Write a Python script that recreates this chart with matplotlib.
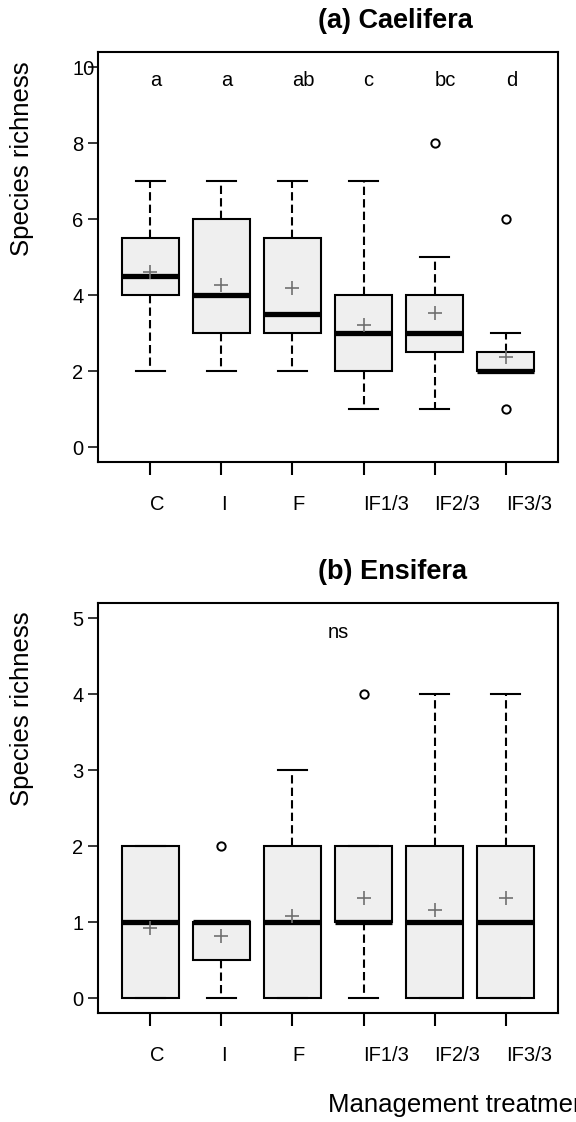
import matplotlib
matplotlib.use("Agg")
import matplotlib.pyplot as plt

plt.rcParams["font.family"] = ["Liberation Sans", "DejaVu Sans"]

# ── Data ───────────────────────────────────────────────────────────────
treatments = ["C", "I", "F", "IF1/3", "IF2/3", "IF3/3"]

# (a) Caelifera
cael_whislo = [2, 2, 2, 1, 1, 2]
cael_q1     = [4, 3, 3, 2, 2.5, 2]
cael_med    = [4.5, 4, 3.5, 3, 3, 2]
cael_q3     = [5.5, 6, 5.5, 4, 4, 2.5]
cael_whishi = [7, 7, 7, 7, 5, 3]
cael_mean   = [4.62, 4.26, 4.2, 3.21, 3.53, 2.38]
cael_fliers = [[], [], [], [], [8], [6, 1]]
cael_letters = ["a", "a", "ab", "c", "bc", "d"]

# (b) Ensifera
ens_whislo = [0, 0, 0, 0, 0, 0]
ens_q1     = [0, 0.5, 0, 1, 0, 0]
ens_med    = [1, 1, 1, 1, 1, 1]
ens_q3     = [2, 1, 2, 2, 2, 2]
ens_whishi = [2, 1, 3, 2, 4, 4]
ens_mean   = [0.92, 0.82, 1.08, 1.32, 1.16, 1.32]
ens_fliers = [[], [2], [], [4], [], []]

W, H = 576, 1122
BOX_FILL = "#efefef"
MEAN_COL = "#707070"


def make_stats(whislo, q1, med, q3, whishi, mean, fliers):
    return [dict(whislo=a, q1=b, med=c, q3=d, whishi=e, mean=m, fliers=f)
            for a, b, c, d, e, m, f in zip(whislo, q1, med, q3, whishi, mean, fliers)]


def draw_panel(ax, stats, ylim, yticks):
    ax.bxp(
        stats, positions=range(1, len(stats) + 1), widths=0.8,
        patch_artist=True, showmeans=True, capwidths=0.4,
        boxprops=dict(facecolor=BOX_FILL, edgecolor="black", linewidth=1.5),
        medianprops=dict(color="black", linewidth=3.8, solid_capstyle="butt"),
        whiskerprops=dict(color="black", linewidth=1.5, linestyle=(0, (4, 2))),
        capprops=dict(color="black", linewidth=1.5),
        meanprops=dict(marker="+", markeredgecolor=MEAN_COL, markersize=10,
                       markeredgewidth=1.2),
        flierprops=dict(marker="o", markerfacecolor="none", markeredgecolor="black",
                        markersize=6, markeredgewidth=1.4),
    )
    ax.set_xlim(0.26, 6.74)
    ax.set_ylim(*ylim)
    ax.set_yticks(yticks)
    ax.set_yticklabels([str(t) for t in yticks], ha="left")
    ax.set_xticks(range(1, len(treatments) + 1))
    ax.set_xticklabels(treatments, ha="left")
    ax.tick_params(axis="y", length=7.2, width=1.1, pad=11.3, labelsize=14.5)
    ax.tick_params(axis="x", length=9.4, width=1.5, pad=14.4, labelsize=14.5)
    for sp in ax.spines.values():
        sp.set_linewidth(1.5)


fig = plt.figure(figsize=(W / 100, H / 100), dpi=100)

ax_a = fig.add_axes([97.7 / W, 1 - 462.3 / H, 460.6 / W, 410 / H])
ax_b = fig.add_axes([97.7 / W, 1 - 1013.3 / H, 460.6 / W, 410 / H])

draw_panel(ax_a, make_stats(cael_whislo, cael_q1, cael_med, cael_q3,
                            cael_whishi, cael_mean, cael_fliers),
           (-0.4, 10.4), [0, 2, 4, 6, 8, 10])
draw_panel(ax_b, make_stats(ens_whislo, ens_q1, ens_med, ens_q3,
                            ens_whishi, ens_mean, ens_fliers),
           (-0.2, 5.2), [0, 1, 2, 3, 4, 5])

# significance letters
for i, lab in enumerate(cael_letters):
    ax_a.text(i + 1, 9.52, lab, ha="left", va="baseline", fontsize=14.5)
ax_b.text(3.5, 4.74, "ns", ha="left", va="baseline", fontsize=14.5)

# titles, axis labels (x label runs off the right edge, as in the original)
fig.text(318 / W, 1 - 28.3 / H, "(a) Caelifera", fontsize=19.5,
         fontweight="bold", ha="left", va="baseline")
fig.text(318 / W, 1 - 579.3 / H, "(b) Ensifera", fontsize=19.5,
         fontweight="bold", ha="left", va="baseline")
fig.text(22.5 / W, 1 - 158.5 / H, "Species richness", fontsize=18.5,
         rotation=90, ha="center", va="center")
fig.text(22.5 / W, 1 - 708.3 / H, "Species richness", fontsize=18.5,
         rotation=90, ha="center", va="center")
fig.text(328.3 / W, 1 - 1111.7 / H, "Management treatment", fontsize=18.5,
         ha="left", va="baseline")

fig.savefig("out.png", dpi=100)
